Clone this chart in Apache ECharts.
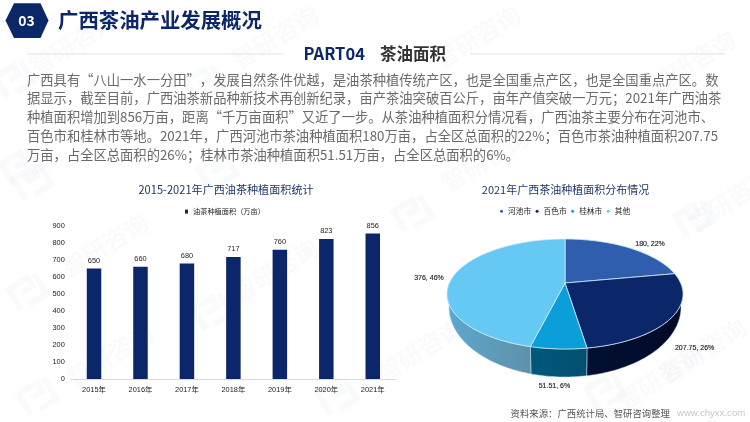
<!DOCTYPE html>
<html><head><meta charset="utf-8">
<style>html,body{margin:0;padding:0;background:#fff}#c{width:750px;height:422px}</style>
<script src="https://cdn.jsdelivr.net/npm/echarts@6/dist/echarts.min.js"></script>
</head><body><div id="c"></div>
<script>
const years = ['2015年','2016年','2017年','2018年','2019年','2020年','2021年'];
const areaValues = [650,660,680,717,760,823,856];
const yTicks = {min:0,max:900,interval:100};
const cities = ['河池市','百色市','桂林市','其他'];
const cityValues = [180,207.75,51.51,376];
const cityShares = [22,26,6,46];
const barSeriesName = '油茶种植面积（万亩）';
const bodyLines = [
 '广西具有“八山一水一分田”，发展自然条件优越，是油茶种植传统产区，也是全国重点产区，也是全国重点产区。数',
 '据显示，截至目前，广西油茶新品种新技术再创新纪录，亩产茶油突破百公斤，亩年产值突破一万元；2021年广西油茶',
 '种植面积增加到856万亩，距离“千万亩面积”又近了一步。从茶油种植面积分情况看，广西油茶主要分布在河池市、',
 '百色市和桂林市等地。2021年，广西河池市茶油种植面积180万亩，占全区总面积的22%；百色市茶油种植面积207.75',
 '万亩，占全区总面积的26%；桂林市茶油种植面积51.51万亩，占全区总面积的6%。'
];
const CJK = '"Noto Sans CJK SC","Noto Sans",sans-serif';
const LAT = '"Liberation Sans","Noto Sans CJK SC",sans-serif';
const navy = '#0b2767';

const topColors = ['#2f5eaf','#0b2769','#0a9fd9','#66c9f3'];
const sideColors = [['#0f2a55','#0f2a55'],['#030f33','#020a26'],['#00587c','#044f70'],['#5ca8cf','#5f90aa']];
const labelOffsets = [[21,-4],[23,31],[-4,37],[-24,1]];
const pie = {cx:565,top:{y:283,rx:115.6,ry:52.8},bot:{y:293,rx:113.7,ry:67.2},k:0.2};
const total = cityValues.reduce((a,b)=>a+b,0);
function rim(a,e){const u=Math.sin(a),v=-Math.cos(a),d=1-pie.k*v;return [pie.cx+e.rx*u/d,e.y+e.ry*v/d];}
function arcPts(a0,a1,e){const n=Math.max(2,Math.ceil((a1-a0)/0.02)),p=[];for(let i=0;i<=n;i++)p.push(rim(a0+(a1-a0)*i/n,e));return p;}
const TAU=Math.PI*2;
function sliceSeries(i){
  const start=cityValues.slice(0,i).reduce((a,b)=>a+b,0);
  return {type:'custom',name:cities[i],coordinateSystem:'none',silent:true,animation:false,
    itemStyle:{color:topColors[i]},encode:{value:0},data:[[cityValues[i],start,cityShares[i]]],
    renderItem(params,api){
      const v=api.value(0),s=api.value(1);
      const a0=s/total*TAU,a1=(s+v)/total*TAU;
      const children=[];
      const f0=Math.max(a0,Math.PI/2),f1=Math.min(a1,Math.PI*1.5);
      if(f1>f0){
        const up=arcPts(f0,f1,pie.top),lo=arcPts(f0,f1,pie.bot).reverse(),pts=up.concat(lo);
        const xs=pts.map(p=>p[0]);
        children.push({type:'polygon',z2:1,shape:{points:pts},style:{
          fill:{type:'linear',x:Math.min(...xs),y:0,x2:Math.max(...xs),y2:0,global:true,
            colorStops:[{offset:0,color:sideColors[i][0]},{offset:1,color:sideColors[i][1]}]},
          stroke:'#bfe3f2',lineWidth:0.5}});
      }
      const ap=[pie.cx,pie.top.y];
      children.push({type:'polygon',z2:3,shape:{points:[ap].concat(arcPts(a0,a1,pie.top))},
        style:{fill:topColors[i],stroke:'#cfe9f6',lineWidth:0.8,lineJoin:'round'}});
      const m=rim((a0+a1)/2,pie.top);
      children.push({type:'text',z2:5,x:m[0]+labelOffsets[i][0],y:m[1]+labelOffsets[i][1],
        style:{text:v+', '+api.value(2)+'%',font:'7px '+LAT,fill:'#222',stroke:'#222',lineWidth:0.15,textAlign:'center',textVerticalAlign:'middle'}});
      return {type:'group',children};
    }};
}
function txt(x,y,text,size,color,weight,align,family){
  return {type:'text',x,y,z:10,silent:true,style:{text,fill:color,textAlign:align||'left',textVerticalAlign:'middle',
    font:(weight||'normal')+' '+size+'px '+(family||CJK)}};
}
const graphics=[
 {type:'polygon',shape:{points:[[5.5,20.5],[14,3.3],[40.5,3.3],[48.5,20.5],[40.5,38],[14,38]]},style:{fill:navy},z:10,silent:true},
 txt(26.5,20.5,'03',14,'#fff','bold','center'),
 txt(58,20.5,'广西茶油产业发展概况',20.4,navy,'bold'),
 {type:'line',shape:{x1:27,y1:54,x2:284,y2:54},style:{stroke:'#e0e3e8',lineWidth:1},z:10,silent:true},
 {type:'line',shape:{x1:470,y1:54,x2:725,y2:54},style:{stroke:'#e0e3e8',lineWidth:1},z:10,silent:true},
 txt(303.5,53.5,'PART04',16.5,navy,'bold'),
 txt(380,53.5,'茶油面积',16.5,'#333','bold')
];
const lineY=[79.5,98,117,136,155];
bodyLines.forEach((t,i)=>graphics.push(txt(27,lineY[i],t,13.3,'#6a6a6a')));
// faint watermark
const wmColor='rgba(20,60,130,0.024)';
const wmText=[[73,43],[275,37],[477,37],[692,62],[105,245],[110,355],[275,270],[420,350],[703,350],[660,378],[485,160],[730,200]];
const wmLogo=[[17,78],[207,82],[23,165],[220,170],[35,180],[30,290],[215,310],[40,395],[340,395],[415,212],[697,217],[608,390]];
wmText.forEach(p=>{
  graphics.push({type:'text',x:p[0],y:p[1],z:0,silent:true,rotation:0.55,style:{text:'智研咨询',fill:wmColor,font:'bold 24px '+CJK,textAlign:'center',textVerticalAlign:'middle'}});
});
wmLogo.forEach(p=>{
  graphics.push({type:'group',x:p[0],y:p[1],rotation:0.55,z:0,silent:true,children:[
    {type:'polyline',shape:{points:[[-18,12],[-18,-12],[4,-12],[4,-2],[-8,-2]]},style:{fill:null,stroke:wmColor,lineWidth:6}},
    {type:'polyline',shape:{points:[[12,-12],[12,12],[-8,12]]},style:{fill:null,stroke:wmColor,lineWidth:6}}
  ]});
});
graphics.push(txt(510.5,413,'资料来源：广西统计局、智研咨询整理',9.4,'#555'));
graphics.push(txt(677,413,'www.chyxx.com',9.6,'#c4c8cc','normal','left',LAT));

const chart=echarts.init(document.getElementById('c'),null,{renderer:'canvas'});
chart.setOption({
  animation:false,backgroundColor:'#fff',
  title:[
    {text:'2015-2021年广西油茶种植面积统计',left:226,top:184.5,textAlign:'center',textStyle:{fontSize:11.1,fontWeight:'normal',color:'#1f3864',fontFamily:CJK},padding:0},
    {text:'2021年广西茶油种植面积分布情况',left:565.5,top:184.5,textAlign:'center',textStyle:{fontSize:11,fontWeight:'normal',color:'#1f3864',fontFamily:CJK},padding:0}
  ],
  legend:[
    {data:[barSeriesName],left:185,top:208,padding:0,itemWidth:3,itemHeight:4,icon:'rect',textStyle:{fontSize:7.2,color:'#222',fontFamily:CJK}},
    {data:cities,left:500,top:207.5,padding:0,itemWidth:3,itemHeight:3,itemGap:4.5,icon:'circle',textStyle:{fontSize:7.7,color:'#222',fontFamily:CJK}}
  ],
  grid:{left:70.8,right:354,top:226,bottom:43},
  xAxis:{type:'category',data:years,axisTick:{show:false},axisLine:{lineStyle:{color:'#d9d9d9'}},
    axisLabel:{fontSize:7.4,color:'#222',margin:7,fontFamily:LAT,interval:0}},
  yAxis:{type:'value',min:yTicks.min,max:yTicks.max,interval:yTicks.interval,splitLine:{show:false},axisLine:{show:false},axisTick:{show:false},
    axisLabel:{fontSize:7.4,color:'#222',margin:6,fontFamily:LAT}},
  series:[
    {type:'bar',name:barSeriesName,data:areaValues,barWidth:14.5,itemStyle:{color:'#0b2769'},z:3,
     label:{show:true,position:'top',distance:4,fontSize:7.4,color:'#222',fontFamily:LAT}}
  ].concat(cities.map((c,i)=>sliceSeries(i))),
  graphic:graphics
});
</script></body></html>
